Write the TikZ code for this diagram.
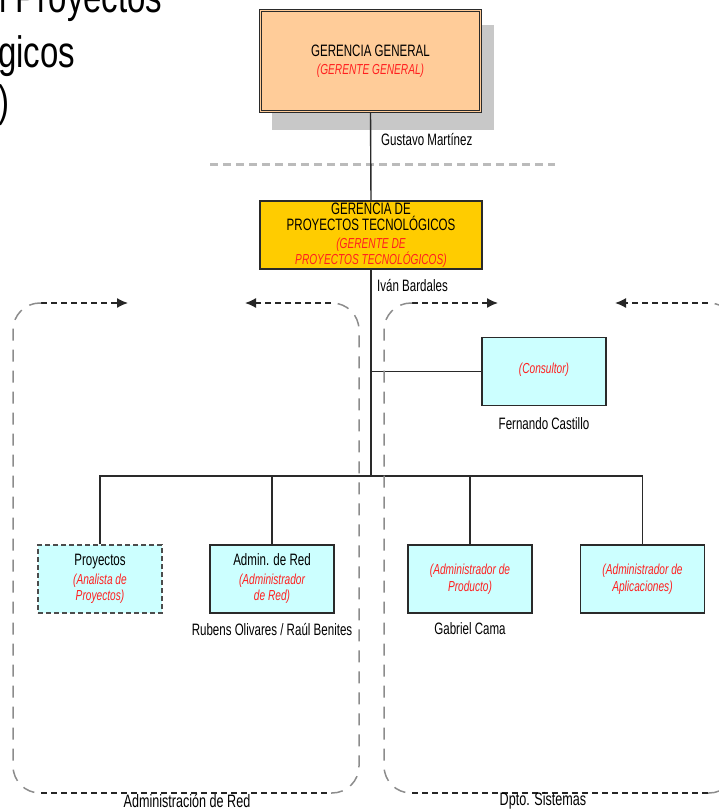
\documentclass[tikz,border=0pt]{standalone}
\usepackage{fontspec}
\setmainfont[FakeStretch=0.7]{Liberation Sans}
\newfontfamily\titlefont[FakeStretch=0.75]{Liberation Sans}
\usetikzlibrary{arrows.meta}

\definecolor{ggfill}{HTML}{FFCC99}
\definecolor{ptfill}{HTML}{FFCC00}
\definecolor{cyanfill}{HTML}{CCFFFF}
\definecolor{rolered}{HTML}{FF2020}
\definecolor{shadowgray}{HTML}{C8C8C8}
\definecolor{sepgray}{HTML}{BBBBBB}
\definecolor{sidegray}{HTML}{8C8C8C}
\definecolor{linedark}{HTML}{2A2A2A}

% role caption inside a box: red italic, a bit smaller
\newcommand{\rolecap}[1]{{\fontsize{14.5}{16}\selectfont\itshape\color{rolered}#1}}

\tikzset{
  x=1pt, y=-1pt,
  boxtext/.style={align=center, inner sep=0pt,
    font=\fontsize{16.5}{16.5}\selectfont},
  ggbox/.style={boxtext, draw=linedark, fill=ggfill, line width=1.1pt,
    double=ggfill, double distance=1.6pt,
    minimum width=220pt, minimum height=101pt},
  ptbox/.style={boxtext, draw=linedark, fill=ptfill, line width=1.3pt,
    minimum width=222pt, minimum height=68pt},
  rolebox/.style={boxtext, draw=linedark, fill=cyanfill, line width=1.3pt,
    minimum width=124pt, minimum height=68pt},
  dashbox/.style={rolebox, draw=black!70, dash pattern=on 5pt off 3pt},
  namelabel/.style={inner sep=0pt, font=\fontsize{16.5}{18}\selectfont},
  regionlabel/.style={inner sep=0pt, font=\fontsize{18}{20}\selectfont},
  titletext/.style={inner sep=0pt, anchor=base west,
    font=\titlefont\fontsize{44}{48}\selectfont},
  wire/.style={draw=linedark, line width=1.4pt},
  regiontop/.style={draw=black!85, line width=1.5pt, dash pattern=on 6pt off 4pt},
  regionside/.style={draw=sidegray, line width=1.5pt, dash pattern=on 12pt off 9pt,
    rounded corners=27pt},
  regionarrow/.style={-{Latex[length=11pt,width=10pt]}},
}

\begin{document}
\begin{tikzpicture}
\useasboundingbox (0,0) rectangle (718,810);

% heading, running off the top-left corner
\node[titletext] (title1) at (-1,13) {l Proyectos};
\node[titletext] (title2) at (-2,68) {gicos};
\node[titletext] (title3) at (-2,117) {)};

% general management
\fill[shadowgray] (272,25) rectangle (494,130);
\node[ggbox] (gg) at (370.5,61)
  {GERENCIA GENERAL\\[2pt]\rolecap{(GERENTE GENERAL)}};
\node[namelabel, anchor=west] (ggname) at (381,140) {Gustavo Martínez};

% separator between levels
\draw[sepgray, line width=3pt, dash pattern=on 8pt off 5pt] (210,165) -- (555,165);

% technology projects management
\node[ptbox] (pt) at (371,235)
  {GERENCIA DE\\PROYECTOS TECNOLÓGICOS\\[1pt]\rolecap{(GERENTE DE}\\\rolecap{PROYECTOS TECNOLÓGICOS)}};
\node[namelabel, anchor=west] (ptname) at (377,286) {Iván Bardales};

% consultant
\node[rolebox] (cons) at (544,371.5) {\raisebox{7pt}{\rolecap{(Consultor)}}};
\node[namelabel] (consname) at (544,424) {Fernando Castillo};

% staff boxes
\node[dashbox] (proy) at (100,579)
  {Proyectos\\[2pt]\rolecap{(Analista de}\\\rolecap{Proyectos)}};
\node[rolebox] (adm) at (272,579)
  {Admin. de Red\\[2pt]\rolecap{(Administrador}\\\rolecap{de Red)}};
\node[rolebox] (prod) at (470,579)
  {\rolecap{(Administrador de}\\\rolecap{Producto)}};
\node[rolebox] (apl) at (642.5,579)
  {\rolecap{(Administrador de}\\\rolecap{Aplicaciones)}};
\node[namelabel] (admname) at (272,629) {Rubens Olivares / Raúl Benites};
\node[namelabel] (prodname) at (470,629) {Gabriel Cama};

% reporting lines
\coordinate (bus) at (pt.south |- 0,476);
\draw[wire] (gg.south) -- (pt.north);
\draw[wire] (pt.south) -- (bus);
\draw[wire] (cons.west) -- (cons.west -| pt.south);
\draw[wire] (proy.north) -- (proy.north |- bus) -- (apl.north |- bus) -- (apl.north);
\draw[wire] (adm.north) -- (adm.north |- bus);
\draw[wire] (prod.north) -- (prod.north |- bus);

% network administration area
\draw[regiontop, regionarrow] (41,303) -- (128,303);
\draw[regionside] (41,303) -- (13,303) -- (13,793) -- (41,793);
\draw[regiontop] (41,793) -- (331,793);
\draw[regionside] (331,793) -- (359,793) -- (359,303) -- (331,303);
\draw[regiontop, regionarrow] (331,303) -- (245,303);
\node[regionlabel] (arealabel1) at (187,801) {Administración de Red};

% systems department area
\draw[regiontop, regionarrow] (412,303) -- (498,303);
\draw[regionside] (412,303) -- (384,303) -- (384,793) -- (412,793);
\draw[regiontop] (412,793) -- (708,793);
\draw[regionside] (708,793) -- (736,793) -- (736,303) -- (708,303);
\draw[regiontop, regionarrow] (708,303) -- (615,303);
\node[regionlabel] (arealabel2) at (543,801) {Dpto. Sistemas};
\end{tikzpicture}
\end{document}
